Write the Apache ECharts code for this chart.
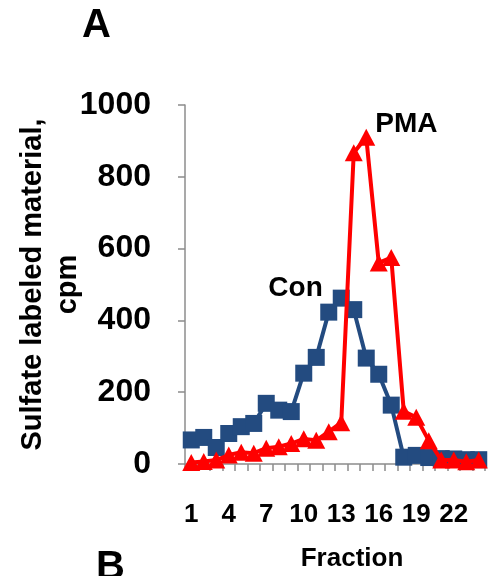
<!DOCTYPE html>
<html>
<head>
<meta charset="utf-8">
<script src="https://cdn.jsdelivr.net/npm/echarts@6/dist/echarts.min.js"></script>
<style>
  html, body { margin: 0; padding: 0; background: #fff; }
  #chart { width: 491px; height: 576px; }
</style>
</head>
<body>
<div id="chart"></div>
<script>
"use strict";

const fractions = [];
for (let i = 1; i <= 24; i++) fractions.push(String(i));

const con_values = [67, 74, 46, 85, 104, 113, 169, 150, 146, 253, 297, 423, 462, 430, 295, 250, 164, 19, 24, 18, 15, 14, 12, 12];
const pma_values = [4, 7, 11, 25, 33, 30, 44, 48, 57, 70, 66, 90, 115, 867, 910, 560, 575, 147, 130, 65, 11, 11, 6, 11];

const FONT = '"Liberation Sans", Arial, sans-serif';

const chartDom = document.getElementById('chart');
const myChart = echarts.init(chartDom, null, { renderer: 'canvas' });

const con_data = con_values.map((v, i) => i === 12 ? {
    value: v,
    label: {
        show: true, position: 'left', distance: 10, offset: [0, -10],
        formatter: 'Con', color: '#000', fontSize: 28, fontWeight: 'bold', fontFamily: FONT
    }
} : v);

const pma_data = pma_values.map((v, i) => i === 14 ? {
    value: v,
    label: {
        show: true, position: 'right', distance: 0, offset: [0, -13],
        formatter: 'PMA', color: '#000', fontSize: 28, fontWeight: 'bold', fontFamily: FONT
    }
} : v);

const option = {
    animation: false,
    backgroundColor: '#fff',
    grid: { left: 185, right: 6, top: 105, bottom: 112, containLabel: false, outerBoundsMode: 'none' },
    graphic: [
        { type: 'text', left: 82, top: 6, style: { text: 'A', fontSize: 40, fontWeight: 'bold', fontFamily: FONT, fill: '#000' } },
        { type: 'text', left: 96, top: 548, style: { text: 'B', fontSize: 40, fontWeight: 'bold', fontFamily: FONT, fill: '#000' } }
    ],
    xAxis: {
        type: 'category',
        data: fractions,
        boundaryGap: true,
        name: 'Fraction',
        nameLocation: 'middle',
        nameGap: 82,
        nameMoveOverlap: false,
        nameTextStyle: { color: '#000', fontSize: 26, fontWeight: 'bold', fontFamily: FONT, padding: [0, 0, 0, 34] },
        axisLine: { lineStyle: { color: '#8c8c8c', width: 1.5 } },
        axisTick: { show: true, interval: 0, length: 7, lineStyle: { color: '#8c8c8c', width: 1.5 } },
        axisLabel: { interval: 2, margin: 38, color: '#000', fontSize: 26, fontWeight: 'bold', fontFamily: FONT, hideOverlap: false },
        splitLine: { show: false }
    },
    yAxis: {
        type: 'value',
        min: 0, max: 1000, interval: 200,
        name: 'Sulfate labeled material,\ncpm',
        nameLocation: 'middle',
        nameGap: 100,
        nameMoveOverlap: false,
        nameTextStyle: { color: '#000', fontSize: 29, fontWeight: 'bold', fontFamily: FONT, lineHeight: 35 },
        axisLine: { show: true, lineStyle: { color: '#8c8c8c', width: 1.5 } },
        axisTick: { show: true, length: 7, lineStyle: { color: '#8c8c8c', width: 1.5 } },
        axisLabel: { margin: 34, color: '#000', fontSize: 32, fontWeight: 'bold', fontFamily: FONT, formatter: v => String(v) },
        splitLine: { show: false }
    },
    series: [
        {
            name: 'Con',
            type: 'line',
            data: con_data,
            smooth: false,
            showAllSymbol: true,
            symbol: 'rect',
            symbolSize: 17,
            lineStyle: { color: '#234b80', width: 4 },
            itemStyle: { color: '#234b80' },
            z: 2
        },
        {
            name: 'PMA',
            type: 'line',
            data: pma_data,
            smooth: false,
            showAllSymbol: true,
            symbol: 'triangle',
            symbolSize: [18, 17],
            lineStyle: { color: '#ff0000', width: 4 },
            itemStyle: { color: '#ff0000' },
            z: 3
        }
    ]
};

option && myChart.setOption(option);
</script>
</body>
</html>
